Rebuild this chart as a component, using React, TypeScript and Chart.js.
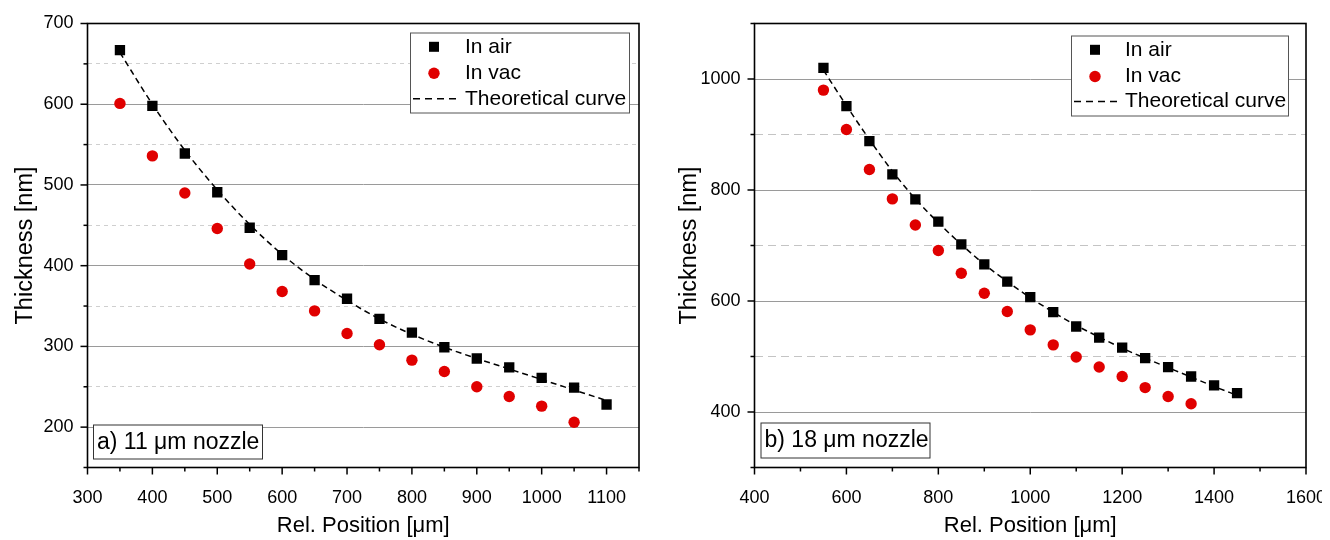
import React, { useEffect, useRef } from "react";
import { Chart, registerables } from "chart.js";

Chart.register(...registerables);

const FONT = "'Liberation Sans', Arial, Helvetica, sans-serif";
const RED = "#e00000";

// ---------- panel a) 11 µm nozzle ----------
const positionsA = [350, 400, 450, 500, 550, 600, 650, 700, 750, 800, 850, 900, 950, 1000, 1050, 1100];
const inAirA = [667, 598, 539, 491, 447, 413, 382, 359, 334, 317, 299, 285, 274, 261, 249, 228];
const positionsVacA = [350, 400, 450, 500, 550, 600, 650, 700, 750, 800, 850, 900, 950, 1000, 1050];
const inVacA = [601, 536, 490, 446, 402, 368, 344, 316, 302, 283, 269, 250, 238, 226, 206];
const theoryA = [664, 600, 543, 494, 451, 414, 383, 357, 334, 315, 299, 285, 272, 259, 246, 233];
const xMajorA = [300, 400, 500, 600, 700, 800, 900, 1000, 1100];
const xMinorA = [350, 450, 550, 650, 750, 850, 950, 1050, 1150];
const yMajorA = [200, 300, 400, 500, 600, 700];
const yMinorA = [150, 250, 350, 450, 550, 650];

// ---------- panel b) 18 µm nozzle ----------
const positionsB = [550, 600, 650, 700, 750, 800, 850, 900, 950, 1000, 1050, 1100, 1150, 1200, 1250, 1300, 1350, 1400, 1450];
const inAirB = [1020, 951, 888, 828, 783, 743, 702, 666, 635, 607, 580, 554, 534, 516, 497, 481, 464, 448, 434];
const positionsVacB = [550, 600, 650, 700, 750, 800, 850, 900, 950, 1000, 1050, 1100, 1150, 1200, 1250, 1300, 1350];
const inVacB = [980, 909, 837, 784, 737, 691, 650, 614, 581, 548, 521, 499, 481, 464, 444, 428, 415];
const theoryB = [1016, 952, 891, 834, 784, 741, 702, 666, 635, 606, 580, 556, 535, 515, 497, 480, 463, 446, 430];
const xMajorB = [400, 600, 800, 1000, 1200, 1400, 1600];
const xMinorB = [500, 700, 900, 1100, 1300, 1500];
const yMajorB = [400, 600, 800, 1000];
const yMinorB = [300, 500, 700, 900, 1100];

const legendLabels = ["In air", "In vac", "Theoretical curve"];
const xTitle = "Rel. Position [\u03BCm]";
const yTitle = "Thickness [nm]";

const CH = 532;

type PanelCfg = {
  width: number;
  positions: number[];
  air: number[];
  positionsVac: number[];
  vac: number[];
  theory: number[];
  xMajor: number[];
  xMinor: number[];
  yMajor: number[];
  yMinor: number[];
  yWidth: number;
  padRight: number;
  yTitlePad: number;
  minorColor: string;
  minorDash: number[];
  legend: { right: number; top: number; w: number; h: number; rows: number[]; mx: number; tx: number };
  note: { text: string; dx: number; dy: number; w: number; h: number };
};

const panelA: PanelCfg = {
  width: 657,
  positions: positionsA,
  air: inAirA,
  positionsVac: positionsVacA,
  vac: inVacA,
  theory: theoryA,
  xMajor: xMajorA,
  xMinor: xMinorA,
  yMajor: yMajorA,
  yMinor: yMinorA,
  yWidth: 79.5,
  padRight: 26,
  yTitlePad: 5.5,
  minorColor: "#cfcfcf",
  minorDash: [4, 4],
  legend: { right: 10, top: 9, w: 219, h: 80, rows: [14.3, 40.8, 66.3], mx: 24, tx: 55 },
  note: { text: "a) 11 \u03BCm nozzle", dx: 5.5, dy: 9, w: 169, h: 34 },
};

const panelB: PanelCfg = {
  width: 665,
  positions: positionsB,
  air: inAirB,
  positionsVac: positionsVacB,
  vac: inVacB,
  theory: theoryB,
  xMajor: xMajorB,
  xMinor: xMinorB,
  yMajor: yMajorB,
  yMinor: yMinorB,
  yWidth: 89.5,
  padRight: 24,
  yTitlePad: 12.5,
  minorColor: "#c4c4c4",
  minorDash: [8, 5],
  legend: { right: 18, top: 12, w: 217, h: 80, rows: [14.3, 41, 66], mx: 24, tx: 54 },
  note: { text: "b) 18 \u03BCm nozzle", dx: 6, dy: 10, w: 169, h: 35 },
};

function sortedTicks(a: number[], b: number[]) {
  return [...a, ...b].sort((p, q) => p - q).map((v) => ({ value: v }));
}

function zeroPad(s: any) {
  s.paddingTop = 0;
  s.paddingBottom = 0;
  s.paddingLeft = 0;
  s.paddingRight = 0;
}

function buildConfig(p: PanelCfg): any {
  const xAll = [...p.xMajor, ...p.xMinor];
  const yAll = [...p.yMajor, ...p.yMinor];
  const xMin = Math.min(...xAll);
  const xMax = Math.max(...xAll);
  const yMin = Math.min(...yAll);
  const yMax = Math.max(...yAll);

  const decor = {
    id: "decor",
    afterDraw(chart: any) {
      const { ctx, chartArea: a } = chart;
      const xs = chart.scales.x;
      const ys = chart.scales.y;
      ctx.save();
      // ticks
      ctx.strokeStyle = "#000";
      ctx.lineWidth = 1.5;
      ctx.setLineDash([]);
      for (const t of xs.ticks) {
        const px = xs.getPixelForValue(t.value);
        const len = p.xMajor.includes(t.value) ? 7 : 4;
        ctx.beginPath();
        ctx.moveTo(px, a.bottom);
        ctx.lineTo(px, a.bottom + len);
        ctx.stroke();
      }
      for (const t of ys.ticks) {
        const py = ys.getPixelForValue(t.value);
        const len = p.yMajor.includes(t.value) ? 7 : 4;
        ctx.beginPath();
        ctx.moveTo(a.left, py);
        ctx.lineTo(a.left - len, py);
        ctx.stroke();
      }
      // frame
      ctx.lineWidth = 1.6;
      ctx.strokeRect(a.left, a.top, a.right - a.left, a.bottom - a.top);

      // legend
      const L = p.legend;
      const lx = a.right - L.right - L.w;
      const ly = a.top + L.top;
      ctx.fillStyle = "#fff";
      ctx.fillRect(lx, ly, L.w, L.h);
      ctx.strokeStyle = "#555";
      ctx.lineWidth = 1;
      ctx.strokeRect(lx + 0.5, ly + 0.5, L.w, L.h);
      ctx.fillStyle = "#000";
      ctx.fillRect(lx + L.mx - 5, ly + L.rows[0] - 5, 10, 10);
      ctx.fillStyle = RED;
      ctx.beginPath();
      ctx.arc(lx + L.mx, ly + L.rows[1], 5.7, 0, Math.PI * 2);
      ctx.fill();
      ctx.strokeStyle = "#000";
      ctx.lineWidth = 1.4;
      ctx.setLineDash([7, 5]);
      ctx.beginPath();
      ctx.moveTo(lx + 3, ly + L.rows[2]);
      ctx.lineTo(lx + L.tx - 4, ly + L.rows[2]);
      ctx.stroke();
      ctx.setLineDash([]);
      ctx.font = `21px ${FONT}`;
      ctx.fillStyle = "#000";
      ctx.textBaseline = "middle";
      ctx.textAlign = "left";
      legendLabels.forEach((s, i) => ctx.fillText(s, lx + L.tx, ly + L.rows[i]));

      // note box
      const N = p.note;
      const nx = a.left + N.dx;
      const ny = a.bottom - N.dy - N.h;
      ctx.fillStyle = "#fff";
      ctx.fillRect(nx, ny, N.w, N.h);
      ctx.strokeStyle = "#333";
      ctx.lineWidth = 1;
      ctx.strokeRect(nx + 0.5, ny + 0.5, N.w, N.h);
      ctx.fillStyle = "#000";
      ctx.font = `23px ${FONT}`;
      ctx.fillText(N.text, nx + 4, ny + N.h / 2 + 1);
      ctx.restore();
    },
  };

  return {
    type: "scatter",
    data: {
      datasets: [
        {
          label: legendLabels[0],
          data: p.positions.map((x, i) => ({ x, y: p.air[i] })),
          pointStyle: "rect",
          pointRadius: 7.3,
          backgroundColor: "#000",
          borderWidth: 0,
          order: 1,
        },
        {
          label: legendLabels[1],
          data: p.positionsVac.map((x, i) => ({ x, y: p.vac[i] })),
          pointStyle: "circle",
          pointRadius: 5.7,
          backgroundColor: RED,
          borderWidth: 0,
          order: 2,
        },
        {
          label: legendLabels[2],
          data: p.positions.map((x, i) => ({ x, y: p.theory[i] })),
          showLine: true,
          pointRadius: 0,
          borderColor: "#000",
          borderWidth: 1.5,
          borderDash: [6, 4],
          tension: 0.35,
          cubicInterpolationMode: "monotone",
          order: 5,
        },
      ],
    },
    options: {
      animation: false,
      responsive: false,
      maintainAspectRatio: false,
      layout: { padding: { left: 0, top: 15.5, right: p.padRight, bottom: 0 } },
      plugins: { legend: { display: false }, tooltip: { enabled: false } },
      scales: {
        x: {
          type: "linear",
          min: xMin,
          max: xMax,
          afterBuildTicks: (s: any) => {
            s.ticks = sortedTicks(p.xMajor, p.xMinor);
          },
          afterFit: (s: any) => {
            s.height = CH - 459.5;
            zeroPad(s);
          },
          grid: { display: false },
          border: { display: false },
          ticks: {
            autoSkip: false,
            maxRotation: 0,
            padding: 12,
            color: "#000",
            font: { family: FONT, size: 18 },
            callback: (v: number) => (p.xMajor.includes(v) ? String(v) : ""),
          },
          title: {
            display: true,
            text: xTitle,
            color: "#000",
            font: { family: FONT, size: 22, lineHeight: 1 },
            padding: { top: 0, bottom: 3 },
          },
        },
        y: {
          type: "linear",
          min: yMin,
          max: yMax,
          afterBuildTicks: (s: any) => {
            s.ticks = sortedTicks(p.yMajor, p.yMinor);
          },
          afterFit: (s: any) => {
            s.width = p.yWidth;
            zeroPad(s);
          },
          grid: {
            color: (c: any) => (p.yMinor.includes(c.tick?.value) ? p.minorColor : "#9a9a9a"),
            lineWidth: 1,
            drawTicks: false,
          },
          border: {
            display: false,
            dash: (c: any) => (p.yMinor.includes(c.tick?.value) ? p.minorDash : []),
          },
          ticks: {
            autoSkip: false,
            padding: 14,
            color: "#000",
            font: { family: FONT, size: 18 },
            callback: (v: number) => (p.yMajor.includes(v) ? String(v) : ""),
          },
          title: {
            display: true,
            text: yTitle,
            color: "#000",
            font: { family: FONT, size: 23.5, lineHeight: 1 },
            padding: { top: p.yTitlePad, bottom: 0 },
          },
        },
      },
    },
    plugins: [decor],
  };
}

function Panel({ cfg, left }: { cfg: PanelCfg; left: number }) {
  const ref = useRef<HTMLCanvasElement>(null);
  useEffect(() => {
    const chart = new Chart(ref.current as HTMLCanvasElement, buildConfig(cfg));
    return () => chart.destroy();
  }, [cfg]);
  return (
    <canvas
      ref={ref}
      width={cfg.width}
      height={CH}
      style={{ position: "absolute", left, top: 0, width: cfg.width, height: CH }}
    />
  );
}

export default function App() {
  return (
    <div style={{ position: "relative", width: 1314, height: CH, background: "#fff" }}>
      <Panel cfg={panelA} left={0} />
      <Panel cfg={panelB} left={panelA.width} />
    </div>
  );
}
